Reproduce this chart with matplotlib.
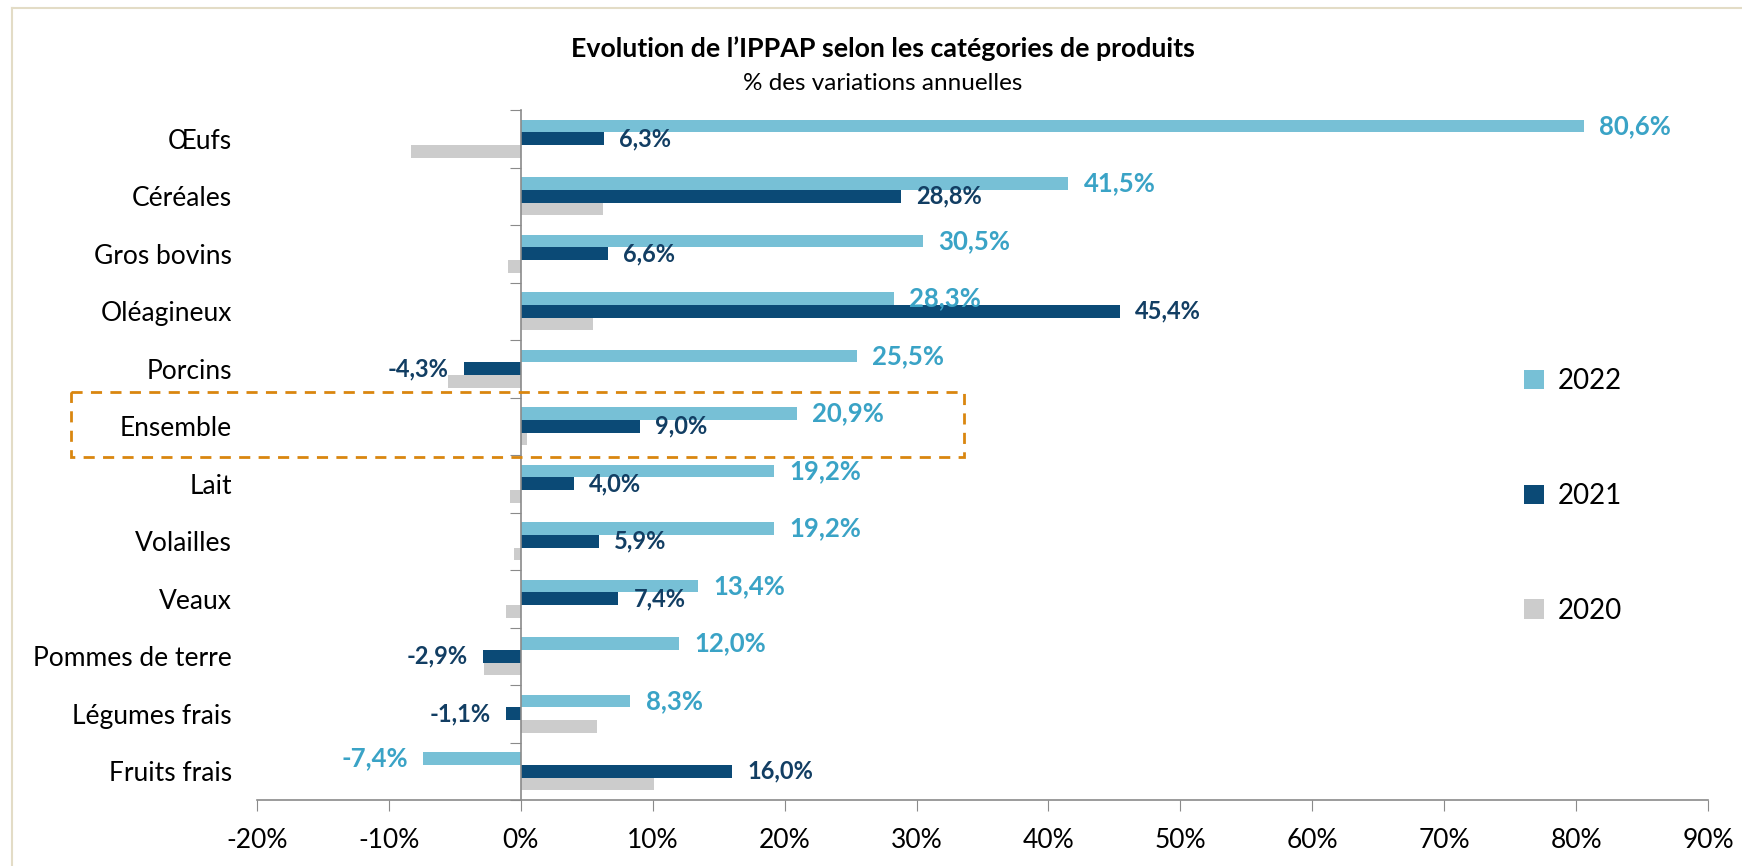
import matplotlib
matplotlib.use("Agg")
import matplotlib.pyplot as plt
import numpy as np
from matplotlib.patches import Rectangle
from matplotlib.lines import Line2D

# data (annual % change)
categories = ["Œufs", "Céréales", "Gros bovins", "Oléagineux", "Porcins", "Ensemble",
              "Lait", "Volailles", "Veaux", "Pommes de terre", "Légumes frais", "Fruits frais"]
vals_2022 = [80.6, 41.5, 30.5, 28.3, 25.5, 20.9, 19.2, 19.2, 13.4, 12.0, 8.3, -7.4]
vals_2021 = [6.3, 28.8, 6.6, 45.4, -4.3, 9.0, 4.0, 5.9, 7.4, -2.9, -1.1, 16.0]
vals_2020 = [-8.3, 6.2, -1.0, 5.5, -5.5, 0.5, -0.8, -0.5, -1.1, -2.8, 5.8, 10.1]
years = ["2022", "2021", "2020"]
xticks_pct = [-20, -10, 0, 10, 20, 30, 40, 50, 60, 70, 80, 90]

C22 = "#77c0d6"
C21 = "#0b4a76"
C20 = "#cccccc"
LAB22 = "#3aa3c6"
LAB21 = "#123e63"
AXC = "#8a8a8a"

plt.rcParams['font.family'] = ["Lato", 'DejaVu Sans']

fig = plt.figure(figsize=(17.42, 8.66), dpi=100)
ax = fig.add_axes([257 / 1742, 1 - 800 / 866, (1708 - 257) / 1742, 690 / 866])

y = np.arange(len(categories))
h = 0.222
b22 = ax.barh(y - h, vals_2022, height=h, color=C22, label=years[0])
b21 = ax.barh(y, vals_2021, height=h, color=C21, label=years[1])
b20 = ax.barh(y + h, vals_2020, height=h, color=C20, label=years[2])

def fmt(v):
    return f"{v:.1f}%".replace(".", ",")

for yy, v in zip(y - h, vals_2022):
    off = 11 if v >= 0 else -11
    ax.annotate(fmt(v), (v, yy), xytext=(off, 0), textcoords="offset points",
                ha="left" if v >= 0 else "right", va="center",
                color=LAB22, fontsize=18.5, fontweight="bold")
for yy, v in zip(y, vals_2021):
    off = 11 if v >= 0 else -11
    ax.annotate(fmt(v), (v, yy), xytext=(off, 0), textcoords="offset points",
                ha="left" if v >= 0 else "right", va="center",
                color=LAB21, fontsize=17, fontweight="bold")

ax.set_xlim(-20, 90)
ax.set_ylim(len(categories) - 0.5, -0.5)
ax.set_xticks(xticks_pct)
ax.set_xticklabels([f"{t}%" for t in xticks_pct], fontsize=19)
ax.tick_params(axis="x", length=8, color=AXC, pad=12)

# y axis sits at 0, ticks between categories, names far on the left
ax.spines["left"].set_position(("data", 0))
ax.spines["left"].set_color(AXC)
ax.spines["left"].set_linewidth(1.2)
ax.set_yticks(np.arange(len(categories) + 1) - 0.5)
ax.set_yticklabels([])
ax.set_yticks(y, minor=True)
ax.set_yticklabels(categories, minor=True, fontsize=19)
ax.tick_params(axis="y", which="major", length=8, color=AXC)
ax.tick_params(axis="y", which="minor", length=0, pad=208)

for s in ["top", "right"]:
    ax.spines[s].set_visible(False)
ax.spines["bottom"].set_color(AXC)
ax.spines["bottom"].set_linewidth(1.2)

# dashed box around "Ensemble"
ax.add_patch(Rectangle((-34.1, 5 - 0.59), 67.7, 1.13, fill=False, ls=(0, (4, 3)),
                       lw=2, edgecolor="#d9860f", clip_on=False, zorder=4))

ax.legend(handles=[b22, b21, b20], loc="center left",
          bbox_to_anchor=(0.856, 0.4406), frameon=False, fontsize=20,
          labelspacing=3.2, handlelength=0.7, handleheight=0.7, handletextpad=0.5)

fig.text(883 / 1742, 1 - 49 / 866, "Evolution de l’IPPAP selon les catégories de produits",
         ha="center", va="center", fontsize=19.3, fontweight="bold")
fig.text(883 / 1742, 1 - 83 / 866, "% des variations annuelles",
         ha="center", va="center", fontsize=17.5)

# light frame on the top and left edges
fc = "#e3dcc6"
fig.add_artist(Line2D([12 / 1742, 1], [1 - 8 / 866, 1 - 8 / 866], color=fc, lw=1.5,
                      transform=fig.transFigure))
fig.add_artist(Line2D([12 / 1742, 12 / 1742], [0, 1 - 8 / 866], color=fc, lw=1.5,
                      transform=fig.transFigure))

fig.savefig("out.png", dpi=100, facecolor="white")
